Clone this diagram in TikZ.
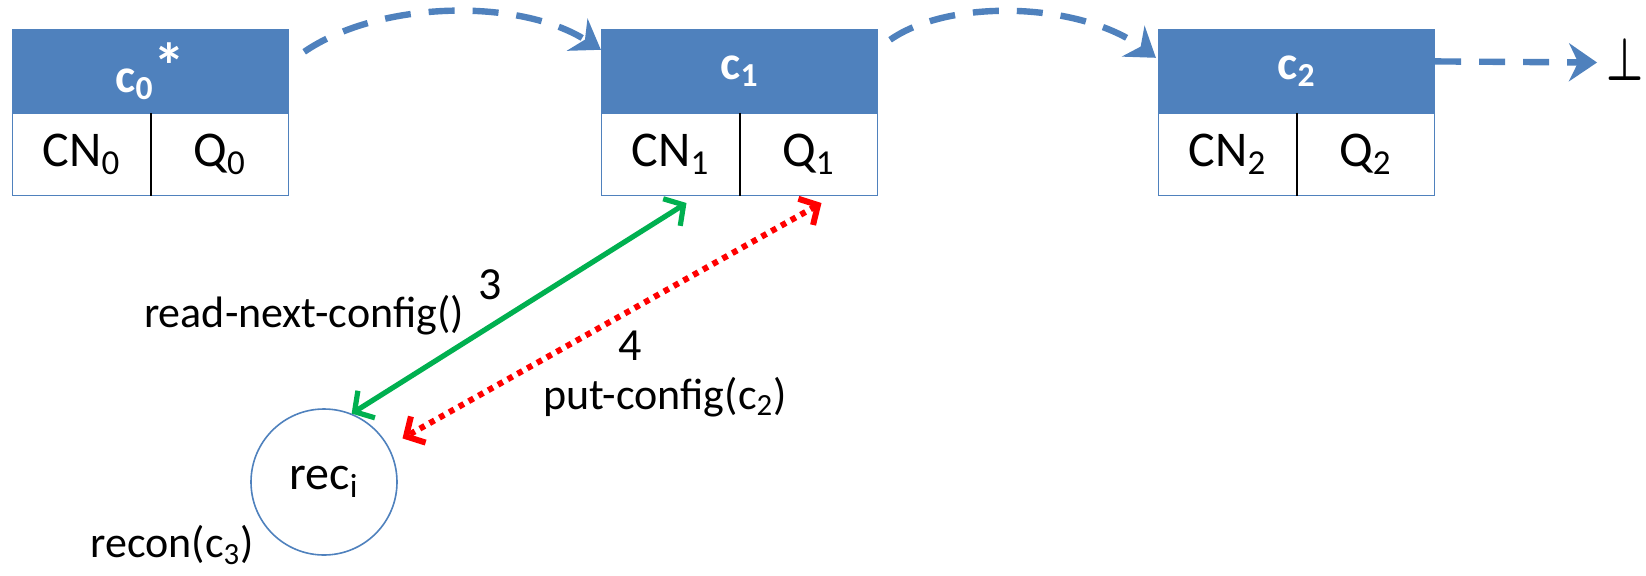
\documentclass[tikz,border=0pt]{standalone}
\usepackage{fontspec}
\setmainfont{Carlito}
\usetikzlibrary{arrows.meta,calc}
\definecolor{ofblue}{HTML}{4F81BD}
\definecolor{ofgreen}{HTML}{00B050}
\definecolor{ofred}{HTML}{FF0000}
\begin{document}
\begin{tikzpicture}[x=0.5pt,y=-0.5pt,
  hdr/.style={draw=ofblue,fill=ofblue,line width=0.6pt,minimum width=138pt,minimum height=42pt,inner sep=0pt,text=white,font=\fontsize{24}{28}\selectfont\bfseries},
  cell/.style={draw=ofblue,line width=0.6pt,minimum width=69pt,minimum height=41pt,inner sep=0pt,font=\fontsize{25}{28}\selectfont},
  divider/.style={black,line width=0.9pt},
  lbl/.style={font=\fontsize{22}{26}\selectfont,inner sep=0pt},
  flow/.style={draw=ofblue,line width=3.2pt,dash pattern=on 13pt off 9pt,-{Stealth[length=14pt,width=19pt]}},
  readarrow/.style={draw=ofgreen,line width=2.6pt,{Straight Barb[length=7pt,width=16pt]}-{Straight Barb[length=7pt,width=16pt]}},
  putarrow/.style={draw=ofred,line width=3pt,dash pattern=on 2.8pt off 2.8pt,{Straight Barb[length=7pt,width=15pt]}-{Straight Barb[length=7pt,width=15pt]}},
  recnode/.style={circle,draw=ofblue,line width=0.8pt,minimum size=73pt,inner sep=0pt,font=\fontsize{24}{28}\selectfont}
]
\useasboundingbox (0,0) rectangle (1646,575);

% box c0
\node[hdr] (h0) at (150.6,71.4) {c\textsubscript{0}\raisebox{2pt}{\fontsize{32}{32}\selectfont *}};
\node[cell] (cn0) at (81.6,154.4) {CN\textsubscript{0}};
\node[cell] (q0) at (219.6,154.4) {Q\textsubscript{0}};
\draw[divider] (cn0.north east) -- (cn0.south east);

% box c1
\node[hdr] (h1) at (739.5,71.4) {c\textsubscript{1}};
\node[cell] (cn1) at (670.5,154.4) {CN\textsubscript{1}};
\node[cell] (q1) at (808.5,154.4) {Q\textsubscript{1}};
\draw[divider] (cn1.north east) -- (cn1.south east);

% box c2
\node[hdr] (h2) at (1296.5,71.4) {c\textsubscript{2}};
\node[cell] (cn2) at (1227.5,154.4) {CN\textsubscript{2}};
\node[cell] (q2) at (1365.5,154.4) {Q\textsubscript{2}};
\draw[divider] (cn2.north east) -- (cn2.south east);

% bottom symbol
\node[inner sep=0pt,font=\fontsize{22}{26}\selectfont] (bot) at (1625,59.5) {\scalebox{1.0}[1.45]{\boldmath$\bot$}};

% flow arrows
\draw[flow] ($(h0.north east)+(15,23)$) .. controls (380,0) and (520,-2) .. ($(h1.north west)+(0,21)$);
\draw[flow] ($(h1.north east)+(12,11)$) .. controls (950,-2) and (1080,2) .. ($(h2.north west)+(-2,29)$);
\draw[flow] ($(h2.east)+(0,-10)$) -- ($(bot.west)+(-9,3)$);

% recovery node
\node[recnode] (rec) at (324,482) {rec\textsubscript{i}};

% read / put arrows
\draw[readarrow] ($(cn1.south)+(16,7)$) -- (rec.68);
\draw[putarrow,shorten >=8pt] ($(q1.south)+(13,7)$) -- (rec.29);

% labels
\node[lbl,font=\fontsize{23}{26}\selectfont] (n3) at (490,285) {3};
\node[lbl] (lread) at (304,315) {read-next-config()};
\node[lbl,font=\fontsize{23}{26}\selectfont] (n4) at (630,346) {4};
\node[lbl] (lput) at (665,397) {put-config(c\textsubscript{2})};
\node[lbl] (lrecon) at (172,545) {recon(c\textsubscript{3})};
\end{tikzpicture}
\end{document}
